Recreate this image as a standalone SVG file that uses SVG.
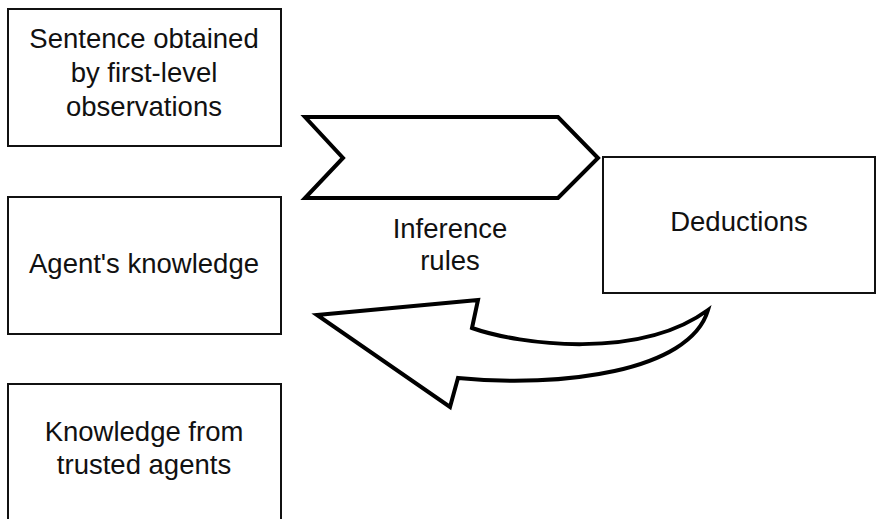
<svg xmlns="http://www.w3.org/2000/svg" width="876" height="519" viewBox="0 0 876 519">
<style>
.box{fill:#fff;stroke:#111;stroke-width:2}
.arr{fill:#fff;stroke:#000;stroke-width:4;stroke-linejoin:miter}
text{font-family:"Liberation Sans",Arial,sans-serif;font-size:27.5px;fill:#111;text-anchor:middle}
</style>
<rect width="876" height="519" fill="#fff"/>
<g id="sentence"><rect class="box" x="8" y="9" width="273" height="137"/>
<text x="144" y="48">Sentence obtained</text><text x="144" y="82">by first-level</text><text x="144" y="116">observations</text></g>
<g id="agent"><rect class="box" x="8" y="197" width="273" height="137"/>
<text x="144" y="273">Agent's knowledge</text></g>
<g id="trusted"><rect class="box" x="8" y="384" width="273" height="140"/>
<text x="144" y="441">Knowledge from</text><text x="144" y="474">trusted agents</text></g>
<g id="deductions"><rect class="box" x="603" y="157" width="272" height="136"/>
<text x="739" y="231">Deductions</text></g>
<g id="connectors">
<polygon class="arr" points="305,117 558,117 598,158 558,198 305,198 343,158"/>
<text x="450" y="238">Inference</text><text x="450" y="270">rules</text>
<path class="arr" stroke-width="3.5" d="M317,315 L478,300 L472,328 C520,345 640,360 708,310 C690,372 560,388 458,378 L450,407 Z"/>
</g>
</svg>
